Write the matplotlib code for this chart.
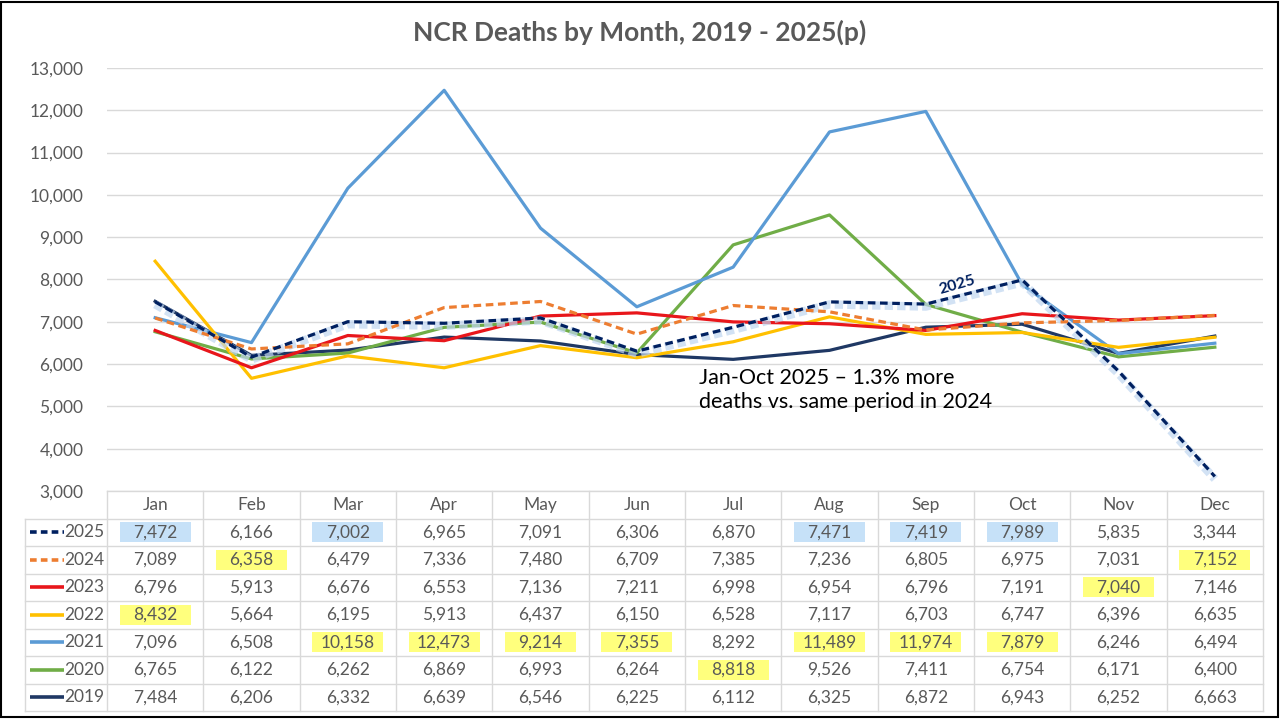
import matplotlib
matplotlib.use("Agg")
import matplotlib.pyplot as plt
from matplotlib.patches import Rectangle
import numpy as np

plt.rcParams['font.family'] = ['Lato', 'DejaVu Sans']
plt.rcParams['lines.scale_dashes'] = False

months = ["Jan", "Feb", "Mar", "Apr", "May", "Jun", "Jul", "Aug", "Sep", "Oct", "Nov", "Dec"]
years = ["2025", "2024", "2023", "2022", "2021", "2020", "2019"]

d2025 = [7472, 6166, 7002, 6965, 7091, 6306, 6870, 7471, 7419, 7989, 5835, 3344]
d2024 = [7089, 6358, 6479, 7336, 7480, 6709, 7385, 7236, 6805, 6975, 7031, 7152]
d2023 = [6796, 5913, 6676, 6553, 7136, 7211, 6998, 6954, 6796, 7191, 7040, 7146]
d2022 = [8432, 5664, 6195, 5913, 6437, 6150, 6528, 7117, 6703, 6747, 6396, 6635]
d2021 = [7096, 6508, 10158, 12473, 9214, 7355, 8292, 11489, 11974, 7879, 6246, 6494]
d2020 = [6765, 6122, 6262, 6869, 6993, 6264, 8818, 9526, 7411, 6754, 6171, 6400]
d2019 = [7484, 6206, 6332, 6639, 6546, 6225, 6112, 6325, 6872, 6943, 6252, 6663]
series = [d2025, d2024, d2023, d2022, d2021, d2020, d2019]

colors = ["#002060", "#ED7D31", "#E8161B", "#FFC000", "#5B9BD5", "#70AD47", "#1F3864"]
dashed = [True, True, False, False, False, False, False]

yticks = [3000, 4000, 5000, 6000, 7000, 8000, 9000, 10000, 11000, 12000, 13000]

hl_blue = [("2025", 0), ("2025", 2), ("2025", 7), ("2025", 8), ("2025", 9)]
hl_yellow = [("2024", 1), ("2024", 11), ("2023", 10), ("2022", 0),
             ("2021", 2), ("2021", 3), ("2021", 4), ("2021", 5), ("2021", 7),
             ("2021", 8), ("2021", 9), ("2020", 6)]

W, H = 1280, 720
fig = plt.figure(figsize=(12.8, 7.2), dpi=100)
fig.patch.set_facecolor("white")

# main axes
L, R, T, B = 107, 1263, 68, 491
ax = fig.add_axes([L / W, 1 - B / H, (R - L) / W, (B - T) / H])
x = np.arange(len(months))
ax.set_xlim(-0.5, len(months) - 0.5)
ax.set_ylim(3000, 13000)
ax.set_yticks(yticks)
ax.set_yticklabels([f"{v:,}" for v in yticks], fontsize=12.5, color="#595959")
ax.tick_params(axis="y", length=0, pad=17)
ax.set_xticks([])
for s in ax.spines.values():
    s.set_visible(False)
ax.grid(axis="y", color="#d9d9d9", linewidth=1.0)
ax.set_axisbelow(True)

order = [6, 5, 4, 3, 2, 1, 0]
for i in order:
    if dashed[i]:
        if i == 0:
            ax.plot(x, np.array(series[i]) - 60, color="#c0d6f0", lw=6.0, alpha=0.7,
                    linestyle=(0, (6, 3)), solid_capstyle="butt", zorder=3)
        ax.plot(x, series[i], color=colors[i], lw=2.3, linestyle=(0, (5.5, 3.3)),
                zorder=5 if i == 0 else 4)
    else:
        ax.plot(x, series[i], color=colors[i], lw=2.3, zorder=3)

ax.text(8.33, 7880, "2025", rotation=16, color="#002060", fontsize=11.5,
        fontweight="bold", ha="center", va="center", zorder=6)
ax.text(5.65, 5900, "Jan-Oct 2025 \u2013 1.3% more\ndeaths vs. same period in 2024",
        fontsize=15.5, color="black", ha="left", va="top", linespacing=1.25, zorder=6)

fig.text(640 / W, 1 - 32 / H, "NCR Deaths by Month, 2019 - 2025(p)", ha="center",
         va="center", fontsize=19, fontweight="bold", color="#595959")

# table axes
TL, TT, TB = 25, 491, 711
colw = (R - L) / len(months)
xl = -0.5 - (L - TL) / colw
tab = fig.add_axes([TL / W, 1 - TB / H, (R - TL) / W, (TB - TT) / H])
tab.set_xlim(xl, len(months) - 0.5)
tab.set_ylim(len(years) + 1, 0)
tab.axis("off")
gc = "#d9d9d9"
nrows = len(years) + 1
tab.plot([-0.5, len(months) - 0.5], [0, 0], color=gc, lw=1, clip_on=False)
for r in range(1, nrows + 1):
    tab.plot([xl, len(months) - 0.5], [r, r], color=gc, lw=1, clip_on=False)
tab.plot([xl, xl], [1, nrows], color=gc, lw=1, clip_on=False)
for c in range(len(months) + 1):
    tab.plot([c - 0.5, c - 0.5], [0, nrows], color=gc, lw=1, clip_on=False)

for j, m in enumerate(months):
    tab.text(j, 0.5, m, ha="center", va="center", fontsize=12.5, color="#595959")

for hl, col in ((hl_blue, "#bcdcf7"), (hl_yellow, "#ffff66")):
    for yr, m in hl:
        r = years.index(yr) + 1
        tab.add_patch(Rectangle((m - 0.37, r + 0.14), 0.74, 0.72, color=col,
                                alpha=0.85, lw=0, zorder=1))

for i, yr in enumerate(years):
    r = i + 1.5
    ls = (0, (4.8, 3.0)) if dashed[i] else "-"
    tab.plot([xl + 5 / colw, xl + 39 / colw], [r, r], color=colors[i], lw=2.6,
             linestyle=ls, solid_capstyle="butt")
    tab.text(-0.53, r, yr, ha="right", va="center", fontsize=12.5, color="#595959")
    for j, v in enumerate(series[i]):
        tab.text(j, r, f"{v:,}", ha="center", va="center", fontsize=12.5,
                 color="#595959", zorder=2)

fig.add_artist(Rectangle((1 / W, 3 / H), 1 - 3 / W, 1 - 5 / H, transform=fig.transFigure,
                         fill=False, edgecolor="black", lw=1.5))

fig.savefig("out.png", dpi=100, facecolor="white")
